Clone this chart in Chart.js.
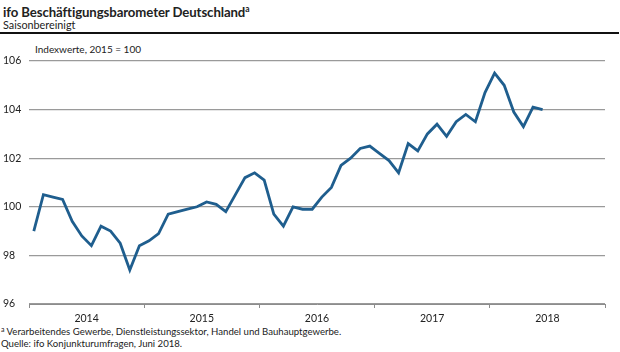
<!DOCTYPE html>
<html><head><meta charset="utf-8">
<script src="https://cdn.jsdelivr.net/npm/chart.js@4/dist/chart.umd.min.js"></script>
<style>
html,body{margin:0;padding:0;background:#fff;}
#wrap{position:relative;width:620px;height:352px;overflow:hidden;font-family:Lato,"Noto Sans",sans-serif;color:#222;}
#title{position:absolute;left:3px;top:4px;font-size:13.2px;font-weight:bold;white-space:nowrap;letter-spacing:-0.1px;}
#title sup{font-size:8.5px;vertical-align:5px;line-height:0;}
#sub{position:absolute;left:3px;top:18px;font-size:10.8px;white-space:nowrap;}
#rule{position:absolute;left:0;top:32px;width:619px;height:2px;background:#111;}
#unit{position:absolute;left:35px;top:43px;font-size:10px;white-space:nowrap;}
#cw{position:absolute;left:0;top:40px;width:620px;height:285px;}
#foot1{position:absolute;left:1px;top:326px;font-size:9.6px;white-space:nowrap;}
#foot1 sup{font-size:7px;vertical-align:3px;line-height:0;}
#foot2{position:absolute;left:1px;top:338px;font-size:9.6px;white-space:nowrap;}
</style></head>
<body>
<div id="wrap">
<div id="title">ifo Beschäftigungsbarometer Deutschland<sup>a</sup></div>
<div id="sub">Saisonbereinigt</div>
<div id="rule"></div>
<div id="unit">Indexwerte, 2015 = 100</div>
<div id="cw"><canvas id="c" width="620" height="285"></canvas></div>
<div id="foot1"><sup>a</sup> Verarbeitendes Gewerbe, Dienstleistungssektor, Handel und Bauhauptgewerbe.</div>
<div id="foot2">Quelle: ifo Konjunkturumfragen, Juni 2018.</div>
</div>
<script>
// Monthly categories Jan 2014 – Jun 2018
const years = ['2014','2015','2016','2017','2018'];
const monthsPerYear = 12;
const months = [];
for (const y of years) for (let m = 1; m <= 12; m++) months.push(y + '-' + String(m).padStart(2,'0'));
const indexValues = [
  99.0,100.5,100.4,100.3,99.4,98.8,98.4,99.2,99.0,98.5,97.4,98.4,
  98.6,98.9,99.7,99.8,99.9,100.0,100.2,100.1,99.8,100.5,101.2,101.4,
  101.1,99.7,99.2,100.0,99.9,99.9,100.4,100.8,101.7,102.0,102.4,102.5,
  102.2,101.9,101.4,102.6,102.3,103.0,103.4,102.9,103.5,103.8,103.5,104.7,
  105.5,105.0,103.9,103.3,104.1,104.0
];
const yTicks = [96,98,100,102,104,106];

const points = indexValues.map((v,i)=>({x:i+0.5,y:v}));
const totalMonths = years.length*monthsPerYear;

new Chart(document.getElementById('c'), {
  type:'line',
  data:{datasets:[{
    label:'ifo Beschäftigungsbarometer',
    data:points,
    borderColor:'#1f5e8e',
    borderWidth:2.8,
    pointRadius:0,
    tension:0,
    fill:false
  }]},
  options:{
    responsive:false,
    animation:false,
    layout:{padding:{top:21,right:15,left:3,bottom:0}},
    plugins:{legend:{display:false},tooltip:{enabled:false}},
    scales:{
      x:{
        type:'linear',
        min:0,max:totalMonths,
        afterBuildTicks(scale){
          const t=[];
          for(let v=0; v<=totalMonths; v+=monthsPerYear/2) t.push({value:v});
          scale.ticks=t;
        },
        afterFit(scale){ scale.height = 21; },
        border:{display:true,color:'#8c8c8c',width:1},
        grid:{
          drawOnChartArea:false,
          drawTicks:true,
          tickLength:4,
          color:(ctx)=> (ctx.tick && ctx.tick.value % monthsPerYear === 0) ? '#8c8c8c' : 'rgba(0,0,0,0)'
        },
        ticks:{
          autoSkip:false,
          maxRotation:0,
          padding:4,
          color:'#222',
          font:{family:'Lato',size:10.5},
          callback:(v)=> (v % monthsPerYear === monthsPerYear/2) ? years[Math.floor(v/monthsPerYear)] : ''
        }
      },
      y:{
        min:96,max:106,
        afterBuildTicks(scale){ scale.ticks = yTicks.map(v=>({value:v})); },
        afterFit(scale){ scale.width = 26; },
        border:{display:false},
        grid:{drawTicks:false,color:'#9a9a9a',lineWidth:1.2},
        ticks:{
          crossAlign:'far',
          padding:0,
          color:'#222',
          font:{family:'Lato',size:10.5}
        }
      }
    }
  }
});
</script>
</body></html>
